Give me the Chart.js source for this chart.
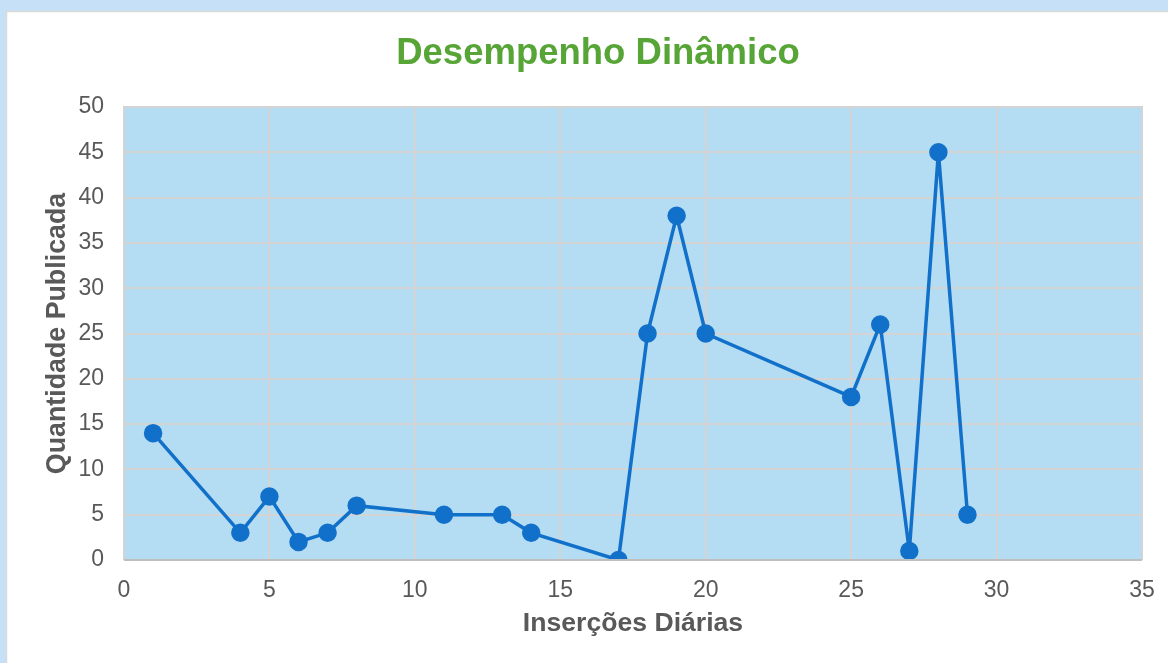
<!DOCTYPE html>
<html>
<head>
<meta charset="utf-8">
<script src="https://cdn.jsdelivr.net/npm/chart.js@4/dist/chart.umd.min.js"></script>
<style>
  html, body { margin: 0; padding: 0; background: #c6e0f8; }
  #wrap { width: 1168px; height: 663px; position: relative; }
</style>
</head>
<body>
<div id="wrap"><canvas id="grafico" width="1168" height="663"></canvas></div>
<script>
// dados
const insercoes = [1, 4, 5, 6, 7, 8, 11, 13, 14, 17, 18, 19, 20, 25, 26, 27, 28, 29];
const quantidade = [14, 3, 7, 2, 3, 6, 5, 5, 3, 0, 25, 38, 25, 18, 26, 1, 45, 5];

const xMin = 0, xMax = 35, xStep = 5;
const yMin = 0, yMax = 50, yStep = 5;

const pontos = insercoes.map((x, i) => ({ x: x, y: quantidade[i] }));

const corTexto = "#595959";
const fonte = "'Liberation Sans', Arial, sans-serif";

// fundo, painel branco e área do gráfico
const fundo = {
  id: "fundo",
  beforeDraw(chart) {
    const c = chart.ctx;
    const a = chart.chartArea;
    c.save();
    c.fillStyle = "#c6e0f8";
    c.fillRect(0, 0, chart.width, chart.height);
    c.fillStyle = "#ffffff";
    c.fillRect(6, 11, chart.width, chart.height);
    c.strokeStyle = "#d9d9d9";
    c.lineWidth = 1.5;
    c.strokeRect(6.5, 11.5, chart.width + 10, chart.height + 10);
    c.fillStyle = "#b4dcf2";
    c.fillRect(a.left, a.top, a.right - a.left, a.bottom - a.top);
    c.restore();
  },
  afterDraw(chart) {
    const c = chart.ctx;
    const a = chart.chartArea;
    c.save();
    c.strokeStyle = "#d4d4d4";
    c.lineWidth = 2;
    c.beginPath();
    c.moveTo(a.left, a.bottom);
    c.lineTo(a.left, a.top);
    c.lineTo(a.right, a.top);
    c.lineTo(a.right, a.bottom);
    c.stroke();
    c.strokeStyle = "#bfbfbf";
    c.beginPath();
    c.moveTo(a.left, a.bottom);
    c.lineTo(a.right, a.bottom);
    c.stroke();
    c.restore();
  }
};

const ctx = document.getElementById("grafico").getContext("2d");
new Chart(ctx, {
  type: "scatter",
  data: {
    datasets: [{
      label: "Quantidade Publicada",
      data: pontos,
      showLine: true,
      borderColor: "#1170c9",
      backgroundColor: "#1170c9",
      borderWidth: 3.5,
      pointRadius: 7.5,
      pointHoverRadius: 7.5,
      tension: 0
    }]
  },
  options: {
    responsive: false,
    animation: false,
    layout: { padding: { left: 54, right: 26, top: 0, bottom: 0 } },
    plugins: {
      legend: { display: false },
      tooltip: { enabled: false },
      title: {
        display: true,
        text: "Desempenho Dinâmico",
        color: "#56a536",
        font: { family: fonte, size: 36.5, weight: "bold", lineHeight: 1.2 },
        padding: { top: 32.1, bottom: 31.1 }
      }
    },
    scales: {
      x: {
        type: "linear",
        min: xMin, max: xMax,
        afterFit(scale) { scale.height = 103; scale.paddingRight = 0; },
        ticks: { stepSize: xStep, color: corTexto, padding: 17, font: { family: fonte, size: 23 } },
        grid: { color: "#d4d4d4", lineWidth: 2, drawTicks: false },
        border: { display: false },
        title: {
          display: true,
          text: "Inserções Diárias",
          color: corTexto,
          font: { family: fonte, size: 26.6, weight: "bold", lineHeight: 1.2 },
          padding: { top: 0, bottom: 23 }
        }
      },
      y: {
        min: yMin, max: yMax,
        afterFit(scale) { scale.width = 70; },
        ticks: { stepSize: yStep, color: corTexto, padding: 20, font: { family: fonte, size: 23 } },
        grid: { color: "#d4d4d4", lineWidth: 2, drawTicks: false },
        border: { display: false },
        title: {
          display: true,
          text: "Quantidade Publicada",
          color: corTexto,
          font: { family: fonte, size: 26.8, weight: "bold", lineHeight: 1 },
          padding: { top: -10, bottom: 0 }
        }
      }
    }
  },
  plugins: [fundo]
});
</script>
</body>
</html>
